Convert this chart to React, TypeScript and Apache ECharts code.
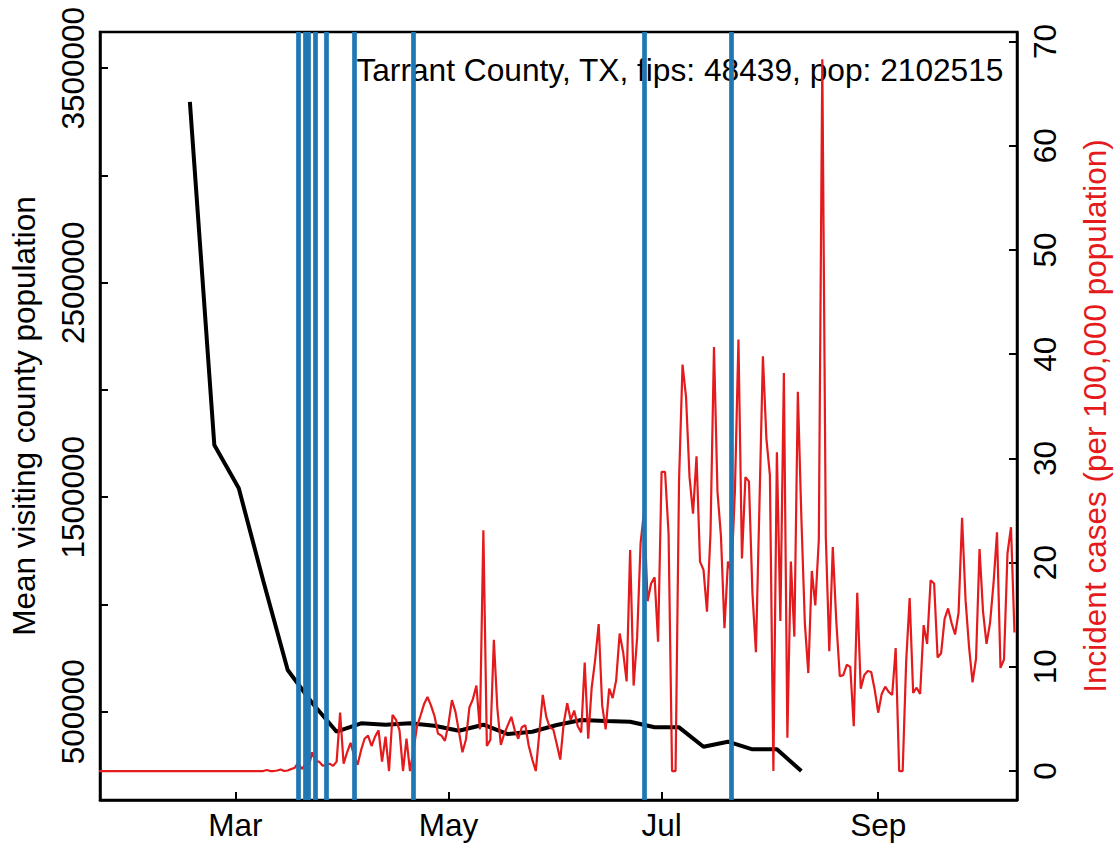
import React, { useEffect, useRef } from 'react';
import * as echarts from 'echarts';

const TITLE = 'Tarrant County, TX, fips: 48439, pop: 2102515';
const LEFT_TITLE = 'Mean visiting county population';
const RIGHT_TITLE = 'Incident cases (per 100,000 population)';

const monthTickDates = ['2020-03-01', '2020-05-01', '2020-07-01', '2020-09-01'];
const monthTickLabels = ['Mar', 'May', 'Jul', 'Sep'];
const leftTicks = [500000, 1000000, 1500000, 2000000, 2500000, 3000000, 3500000];
const leftLabels = [500000, 1500000, 2500000, 3500000];
const rightTicks = [0, 10, 20, 30, 40, 50, 60, 70];

// weekly mean visiting county population, starting 2020-02-17
const mobilityStart = '2020-02-17';
const mobilityValues = [
  3343600, 1743100, 1541300, 1110000, 694200, 540300, 406500, 445700, 439200,
  445700, 434500, 411200, 439200, 395800, 406500, 437800, 461100, 456400,
  453100, 427000, 427000, 336600, 359900, 324500, 324500, 223300,
];

// daily incident cases per 100,000, starting 2020-01-22
const casesStart = '2020-01-22';
const casesValues = [
  // Jan 22 - Feb 29
  0, 0, 0, 0, 0, 0, 0, 0, 0, 0, 0, 0, 0, 0, 0, 0, 0, 0, 0, 0,
  0, 0, 0, 0, 0, 0, 0, 0, 0, 0, 0, 0, 0, 0, 0, 0, 0, 0, 0,
  // Mar 1 - Mar 9
  0, 0, 0, 0, 0, 0, 0, 0, 0,
  // Mar 10 -
  0.1, 0, 0, 0.05, 0.15, 0, 0.05, 0.2, 0.3, 0.8,
  0.2, 0.6, 0.4, 1.8, 0.9, 0.9, 0.5, 0.6, 0.7, 0.5,
  0.9, 5.6, 0.7, 1.8, 2.7, 1.5, 0.6, 2.0, 3.1, 3.4,
  2.4, 3.3, 3.9, 0.9, 3.3, 0, 5.4, 4.9, 3.9, 0,
  3.1, 0, 2, 4.3, 5.3, 6.4, 7.1, 6.3, 5.3, 3.6,
  3.4, 2.9, 4.5, 6.8, 5.7, 3.8, 1.8, 3.0, 6.1, 6.9,
  8.2, 4.0, 23.1, 2.4, 3.0, 12.6, 6.0, 2.5, 3.6, 4.4,
  5.2, 3.9, 3.1, 4.2, 4.4, 2.4, 1.1, 0, 3.6, 7.3,
  5.2, 4.2, 4.0, 2.6, 1.1, 4.6, 6.5, 4.9, 5.8, 4.3,
  3.7, 10.4, 3.1, 8.0, 10.7, 14.1, 6.3, 4.0, 7.9, 7.0,
  8.7, 13.2, 11.4, 8.6, 21.2, 8.2, 12.8, 21.9, 25, 16.3,
  18.0, 18.6, 12.4, 28.7, 28.7, 22.8, 0, 0, 27.9, 39.0,
  35.9, 28.2, 24.7, 30.2, 20.1, 19.3, 15.3, 22.8, 40.7, 26.8,
  22.5, 13.7, 20.1, 19, 27, 41.4, 20.4, 28.2, 27.8, 17.1,
  11.4, 25.4, 39.8, 31.9, 28.4, 0, 30.6, 14.4, 38.2, 3.2,
  20.1, 12.9, 36.4, 24.4, 14.2, 9.4, 19.2, 15.9, 22.2, 68.3,
  22.5, 11.5, 21.5, 14.4, 9.1, 9.2, 10.2, 10.0, 4.3, 17.1,
  7.9, 9.2, 9.6, 9.5, 7.8, 5.6, 7.4, 8.1, 7.6, 7.3,
  11.8, 0, 0, 10.5, 16.6, 7.5, 8.0, 7.4, 14.0, 12.2,
  18.3, 18.0, 10.9, 11.3, 14.6, 15.6, 14.2, 13.1, 15.2, 24.3,
  16.4, 11.9, 8.5, 10.8, 21.3, 15.3, 12.2, 14.2, 18.0, 22.9,
  9.9, 10.7, 20.9, 23.4, 13.3,
];

const interventionDates = [
  '2020-03-19', '2020-03-21', '2020-03-22', '2020-03-24', '2020-03-27',
  '2020-04-04', '2020-04-21', '2020-06-26', '2020-07-21',
];

const X_RANGE_DATES = ['2020-01-22', '2020-10-10'];

const dayOfYear = (s: string) => {
  const [y, m, d] = s.split('-').map(Number);
  return (Date.UTC(y, m - 1, d) - Date.UTC(2020, 0, 1)) / 86400000;
};

const FONT = '"Liberation Sans", Arial, Helvetica, sans-serif';
const RED = '#E41A1C';
const BLUE = '#1F77B4';
const FS = 31.5;

export default function App() {
  const ref = useRef<HTMLDivElement>(null);
  useEffect(() => {
    if (!ref.current) return;
    const chart = echarts.init(ref.current, undefined, { renderer: 'svg' });
    const monthTicks = monthTickDates.map(dayOfYear);
    const labelByDay: Record<string, string> = {};
    monthTicks.forEach((v, i) => (labelByDay[String(v)] = monthTickLabels[i]));
    const m0 = dayOfYear(mobilityStart);
    const c0 = dayOfYear(casesStart);
    const mobility = mobilityValues.map((v, i) => [m0 + 7 * i, v]);
    const cases = casesValues.map((v, i) => [c0 + i, v]);

    chart.setOption({
      animation: false,
      textStyle: { fontFamily: FONT },
      grid: {
        left: 99, right: 98.3, top: 32, bottom: 43,
        show: true, borderColor: '#000', borderWidth: 2.5, backgroundColor: 'transparent',
      },
      xAxis: {
        type: 'value',
        min: dayOfYear(X_RANGE_DATES[0]) + 0.28,
        max: dayOfYear(X_RANGE_DATES[1]) + 0.72,
        splitLine: { show: false },
        axisLine: { show: true, onZero: false, lineStyle: { color: '#000', width: 2.5 } },
        axisTick: { show: true, inside: true, length: 8, lineStyle: { color: '#000', width: 2 }, customValues: monthTicks },
        axisLabel: {
          customValues: monthTicks,
          formatter: (v: number) => labelByDay[String(v)] ?? '',
          fontSize: FS, color: '#000', margin: 9, fontFamily: FONT,
        },
      },
      yAxis: [
        {
          type: 'value', position: 'left',
          min: 88100, max: 3669000,
          splitLine: { show: false },
          axisLine: { show: true, onZero: false, lineStyle: { color: '#000', width: 2.5 } },
          axisTick: { show: true, inside: true, length: 8, lineStyle: { color: '#000', width: 2 }, customValues: leftTicks },
          axisLabel: {
            customValues: leftLabels, rotate: 90, fontSize: FS, color: '#000', margin: 11, fontFamily: FONT,
            formatter: (v: number) => String(v),
          },
          name: LEFT_TITLE, nameLocation: 'middle', nameGap: 60,
          nameTextStyle: { fontSize: FS, color: '#000', fontFamily: FONT },
        },
        {
          type: 'value', position: 'right',
          min: -2.78, max: 70.92,
          splitLine: { show: false },
          axisLine: { show: true, onZero: false, lineStyle: { color: '#000', width: 2.5 } },
          axisTick: { show: true, inside: true, length: 8, lineStyle: { color: '#000', width: 2 }, customValues: rightTicks },
          axisLabel: {
            customValues: rightTicks, rotate: 90, fontSize: FS, color: '#000', margin: 12, fontFamily: FONT,
            formatter: (v: number) => String(v),
          },
          name: RIGHT_TITLE, nameLocation: 'middle', nameGap: 62,
          nameTextStyle: { fontSize: FS, color: RED, fontFamily: FONT },
        },
      ],
      graphic: [
        {
          type: 'text', x: 1003.5, y: 70, z: 0,
          style: { text: TITLE, font: `31.7px ${FONT}`, fill: '#000', align: 'right', verticalAlign: 'middle' },
        },
      ],
      series: [
        {
          type: 'line', name: 'mobility', yAxisIndex: 0, data: mobility,
          showSymbol: false, symbol: 'none', z: 2,
          lineStyle: { color: '#000', width: 4 }, emphasis: { disabled: true },
        },
        {
          type: 'line', name: 'cases', yAxisIndex: 1, data: cases,
          showSymbol: false, symbol: 'none', z: 3, clip: true,
          lineStyle: { color: RED, width: 2.2 }, emphasis: { disabled: true },
        },
        {
          type: 'line', name: 'interventions', yAxisIndex: 0, data: [], z: 5,
          markLine: {
            silent: true, symbol: ['none', 'none'], label: { show: false },
            lineStyle: { color: BLUE, width: 4.7, type: 'solid' },
            emphasis: { disabled: true },
            data: interventionDates.map((d) => ({ xAxis: dayOfYear(d) })),
          },
        },
      ],
    });
    return () => chart.dispose();
  }, []);
  return (
    <div
      ref={ref}
      style={{ position: 'fixed', left: 0, top: 0, width: 1119, height: 843, background: '#fff' }}
    />
  );
}
